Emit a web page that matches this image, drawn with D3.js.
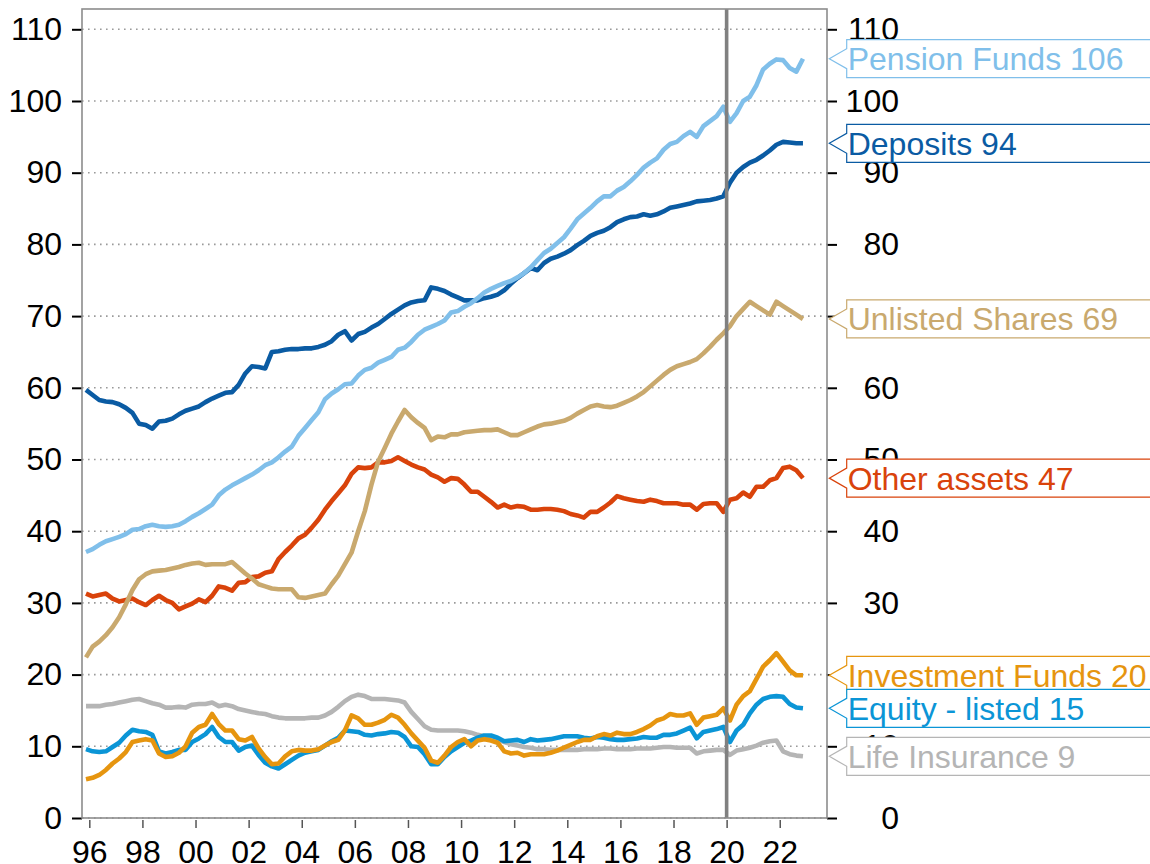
<!DOCTYPE html>
<html><head><meta charset="utf-8">
<script src="https://cdn.jsdelivr.net/npm/d3@7"></script>
<style>
body{margin:0;background:#fff;overflow:hidden;}
svg{display:block;}
text{font-family:"Liberation Sans",Arial,Helvetica,sans-serif;}
</style>
</head><body>
<svg id="chart" width="1150" height="864"></svg>
<script>
// ---------------- DATA (quarterly, first observation 1995 Q4, last 2022 Q4) ----------------
const firstYear = 1995, firstQuarter = 4, lastYear = 2022, lastQuarter = 4;

const pensionFunds = [37.1,
 37.5,38.1,38.6,38.9, 39.2,39.6,40.2,40.3, 40.7,40.9,40.7,40.6, 40.7,40.9,41.4,42.0,
 42.5,43.1,43.7,45.0, 45.8,46.4,46.9,47.4, 47.9,48.5,49.2,49.6, 50.3,51.1,51.8,53.3,
 54.4,55.5,56.6,58.4, 59.2,59.8,60.5,60.6, 61.7,62.5,62.8,63.5, 63.9,64.3,65.3,65.6,
 66.4,67.4,68.1,68.5, 68.9,69.4,70.5,70.7, 71.3,71.8,72.5,73.3, 73.8,74.2,74.6,74.9,
 75.4,76.0,76.8,77.8, 78.8,79.4,80.2,81.0, 82.2,83.5,84.3,85.1, 86.0,86.7,86.7,87.5,
 88.0,88.8,89.7,90.7, 91.4,92.0,93.2,94.0, 94.3,95.1,95.7,95.0, 96.5,97.2,97.9,99.2,
 97.1,98.3,100.0,100.6, 102.2,104.4,105.2,105.8, 105.7,104.6,104.1,105.9];

const deposits = [59.7,
 59.0,58.3,58.1,58.0, 57.7,57.2,56.5,55.0, 54.8,54.3,55.3,55.4, 55.7,56.3,56.8,57.1,
 57.4,58.0,58.5,58.9, 59.3,59.4,60.4,62.0, 63.0,62.9,62.7,65.0, 65.1,65.3,65.4,65.4,
 65.5,65.5,65.7,66.0, 66.5,67.4,67.9,66.6, 67.5,67.8,68.4,68.9, 69.6,70.3,70.9,71.5,
 71.9,72.1,72.2,74.0, 73.8,73.5,73.0,72.6, 72.2,72.2,72.2,72.5, 72.7,73.0,73.6,74.5,
 75.3,76.0,76.7,76.4, 77.4,78.0,78.3,78.7, 79.2,79.9,80.5,81.2, 81.6,81.9,82.4,83.1,
 83.5,83.8,83.9,84.2, 84.0,84.2,84.6,85.1, 85.3,85.5,85.7,86.0, 86.1,86.2,86.4,86.7,
 88.6,90.0,90.8,91.4, 91.8,92.4,93.1,93.9, 94.3,94.2,94.1,94.1];

const unlistedShares = [22.4,
 23.9,24.6,25.5,26.6, 28.0,29.8,31.8,33.3, 34.0,34.4,34.5,34.6, 34.8,35.0,35.3,35.5,
 35.6,35.3,35.4,35.4, 35.4,35.7,34.9,34.1, 33.4,32.6,32.3,32.0, 31.9,31.9,31.9,30.8,
 30.7,30.9,31.1,31.3, 32.6,33.8,35.4,37.0, 40.0,42.8,46.5,49.7, 51.6,53.6,55.3,56.9,
 55.9,55.1,54.4,52.7, 53.2,53.1,53.5,53.5, 53.8,53.9,54.0,54.1, 54.1,54.2,53.8,53.4,
 53.4,53.8,54.2,54.6, 54.9,55.0,55.2,55.4, 55.8,56.4,56.9,57.4, 57.6,57.4,57.3,57.5,
 57.9,58.3,58.8,59.4, 60.2,61.0,61.8,62.5, 63.0,63.3,63.6,64.0, 64.8,65.7,66.7,67.6,
 68.6,70.0,71.0,72.0, 71.4,70.8,70.2,72.0, 71.4,70.8,70.2,69.6];

const otherAssets = [31.3,
 30.9,31.1,31.3,30.6, 30.2,30.4,30.6,30.1, 29.7,30.4,31.0,30.4, 30.0,29.1,29.5,29.9,
 30.5,30.1,31.0,32.3, 32.1,31.7,32.8,32.9, 33.6,33.7,34.2,34.4, 36.1,37.1,38.0,39.0,
 39.5,40.5,41.6,43.0, 44.2,45.3,46.4,48.0, 48.9,48.8,48.9,49.6, 49.6,49.8,50.3,49.8,
 49.3,48.9,48.6,47.9, 47.5,46.9,47.4,47.3, 46.5,45.5,45.5,44.8, 44.1,43.3,43.7,43.3,
 43.5,43.4,43.0,43.0, 43.1,43.1,43.0,42.8, 42.4,42.2,41.9,42.7, 42.7,43.3,44.0,44.9,
 44.6,44.4,44.2,44.1, 44.4,44.2,43.9,43.9, 43.9,43.7,43.7,43.0, 43.8,43.9,43.9,42.7,
 44.4,44.6,45.4,44.8, 46.2,46.2,47.1,47.4, 48.8,49.0,48.5,47.4];

const investmentFunds = [5.4,
 5.6,6.0,6.7,7.6, 8.3,9.2,10.6,10.8, 11.0,10.8,9.0,8.5, 8.6,9.1,10.0,11.9,
 12.7,13.0,14.5,13.1, 12.2,12.2,11.0,10.8, 11.3,9.7,8.5,7.5, 7.6,8.6,9.3,9.5,
 9.4,9.4,9.6,10.1, 10.6,10.9,12.2,14.3, 13.9,13.0,13.0,13.3, 13.7,14.4,14.0,13.0,
 11.8,10.8,9.8,8.0, 7.7,8.7,9.9,10.6, 11.0,10.0,10.8,11.0, 10.8,10.5,9.3,9.0,
 9.1,8.7,8.9,8.9, 8.9,9.1,9.4,9.8, 10.2,10.6,10.9,10.9, 11.4,11.7,11.5,11.9,
 11.7,11.7,12.0,12.4, 12.9,13.6,13.9,14.5, 14.3,14.3,14.6,13.0, 14.0,14.2,14.4,15.3,
 13.6,15.8,17.0,17.7, 19.4,21.1,22.0,23.0, 21.8,20.6,19.9,19.9];

const equityListed = [9.6,
 9.3,9.2,9.3,9.9, 10.5,11.5,12.3,12.1, 12.0,11.6,9.3,9.0, 9.2,9.5,9.5,10.6,
 11.1,11.7,12.7,11.3, 10.6,10.6,9.4,9.9, 10.1,8.8,7.7,7.2, 6.9,7.5,8.1,8.7,
 9.1,9.3,9.5,10.1, 10.7,11.2,12.2,12.1, 12.0,11.6,11.5,11.7, 11.8,12.0,11.9,11.3,
 10.0,9.9,8.9,7.5, 7.5,8.5,9.3,9.9, 10.5,10.8,11.2,11.5, 11.5,11.2,10.7,10.8,
 10.9,10.6,11.0,10.8, 10.9,11.0,11.2,11.4, 11.4,11.4,11.2,11.1, 11.3,11.2,11.0,10.9,
 10.9,11.0,11.1,11.3, 11.2,11.2,11.6,11.6, 11.8,12.2,12.6,11.1, 12.0,12.2,12.4,12.7,
 10.6,12.2,13.0,14.6, 15.8,16.6,16.9,17.0, 16.9,15.9,15.4,15.3];

const lifeInsurance = [15.6,
 15.6,15.6,15.8,15.9, 16.1,16.3,16.5,16.6, 16.3,16.0,15.8,15.4, 15.4,15.5,15.4,15.8,
 15.9,15.9,16.1,15.6, 15.8,15.6,15.2,15.0, 14.8,14.6,14.5,14.2, 14.0,13.9,13.9,13.9,
 13.9,14.0,14.0,14.3, 14.8,15.5,16.3,16.9, 17.2,17.0,16.6,16.6, 16.6,16.5,16.4,16.1,
 14.8,13.8,12.8,12.3, 12.2,12.2,12.2,12.2, 12.1,11.9,11.6,11.4, 11.1,10.9,10.6,10.3,
 10.1,9.9,9.8,9.6, 9.6,9.5,9.5,9.5, 9.5,9.5,9.6,9.6, 9.6,9.7,9.7,9.6,
 9.6,9.6,9.7,9.7, 9.7,9.8,9.9,9.9, 9.8,9.8,9.8,9.0, 9.3,9.4,9.5,9.5,
 8.8,9.4,9.6,9.8, 10.1,10.5,10.7,10.8, 9.3,8.9,8.7,8.6];

const seriesNames  = ["Pension Funds","Deposits","Unlisted Shares","Other assets","Investment Funds","Equity - listed","Life Insurance"];
const seriesLabels = ["Pension Funds 106","Deposits 94","Unlisted Shares 69","Other assets 47","Investment Funds 20","Equity - listed 15","Life Insurance 9"];
const seriesColors = ["#80bfea","#0a5ba3","#c9a96e","#d9430b","#e6950f","#0b95d6","#b5b5b5"];
const seriesValues = [pensionFunds, deposits, unlistedShares, otherAssets, investmentFunds, equityListed, lifeInsurance];
const drawOrder = [6,5,4,3,2,1,0];

const yTicks = [0,10,20,30,40,50,60,70,80,90,100,110];
const xTickYears = [1996,1998,2000,2002,2004,2006,2008,2010,2012,2014,2016,2018,2020,2022];
const xTickLabels = ["96","98","00","02","04","06","08","10","12","14","16","18","20","22"];
const markerYear = 2020;

// quarter timeline (mid-quarter positions)
const quarters = [];
for (let y = firstYear, q = firstQuarter; y < lastYear || (y === lastYear && q <= lastQuarter); ) {
  quarters.push(y + (q - 0.5) / 4);
  q++; if (q > 4) { q = 1; y++; }
}

// ---------------- LAYOUT ----------------
const L = 82, R = 827, T = 9, B = 818;
const svg = d3.select("#chart");
const x = d3.scaleLinear().domain([1995.725, 2023.78]).range([L, R]);
const y = d3.scaleLinear().domain([0, 110]).range([B, 29.3]);
const FS = 32;
const FF = '"Liberation Sans",Arial,sans-serif';

// gridlines
svg.append("g").selectAll("line").data(yTicks).join("line")
  .attr("x1", L).attr("x2", R).attr("y1", d => y(d)).attr("y2", d => y(d))
  .attr("stroke", "#9a9a9a").attr("stroke-width", 1.6).attr("stroke-dasharray", "1.6,4.4");

// left axis
const leftAxis = d3.axisLeft(y).tickValues(yTicks).tickSize(10).tickPadding(10).tickFormat(d3.format("d"));
const gl = svg.append("g").attr("transform", `translate(${L},0)`).call(leftAxis);
gl.select(".domain").remove();
gl.selectAll(".tick line").attr("stroke", "#000").attr("stroke-width", 2);
gl.selectAll(".tick text").attr("font-size", FS).attr("fill", "#000").attr("font-family", FF);

// right axis (labels right-aligned)
const rightAxis = d3.axisRight(y).tickValues(yTicks).tickSize(10).tickPadding(0).tickFormat(d3.format("d"));
const gr = svg.append("g").attr("transform", `translate(${R},0)`).call(rightAxis);
gr.select(".domain").remove();
gr.selectAll(".tick line").attr("stroke", "#000").attr("stroke-width", 2);
gr.selectAll(".tick text").attr("font-size", FS).attr("fill", "#000")
  .attr("text-anchor", "end").attr("x", 72).attr("font-family", FF);

// bottom axis
const bottomAxis = d3.axisBottom(x).tickValues(xTickYears).tickSize(10).tickPadding(12)
  .tickFormat((d, i) => xTickLabels[i]);
const gb = svg.append("g").attr("transform", `translate(0,${B})`).call(bottomAxis);
gb.select(".domain").remove();
gb.selectAll(".tick line").attr("stroke", "#555").attr("stroke-width", 1.5).attr("y1", 2);
gb.selectAll(".tick text").attr("font-size", FS).attr("fill", "#000").attr("font-family", FF);

// lines
const line = d3.line().x((d, i) => x(quarters[i])).y(d => y(d));
svg.append("g").selectAll("path").data(drawOrder).join("path")
  .attr("d", k => line(seriesValues[k]))
  .attr("fill", "none").attr("stroke", k => seriesColors[k])
  .attr("stroke-width", 4.6).attr("stroke-linejoin", "round").attr("stroke-linecap", "butt");

// 2020 marker
svg.append("line").attr("x1", x(markerYear)).attr("x2", x(markerYear)).attr("y1", T).attr("y2", B)
  .attr("stroke", "#808080").attr("stroke-width", 3.6);

// frame
svg.append("rect").attr("x", L).attr("y", T).attr("width", R - L).attr("height", B - T)
  .attr("fill", "none").attr("stroke", "#8c8c8c").attr("stroke-width", 1.6);

// end-of-line callout labels
const boxL = 846.7, tipX = 829.3, half = 19, notch = 10;
const lg = svg.append("g");
seriesNames.forEach((name, k) => {
  const vals = seriesValues[k];
  const ty = y(vals[vals.length - 1]);
  const g = lg.append("g");
  g.append("path")
    .attr("d", `M1160,${ty - half} H${boxL} V${ty - notch} L${tipX},${ty} L${boxL},${ty + notch} V${ty + half} H1160`)
    .attr("fill", "#fff").attr("stroke", seriesColors[k]).attr("stroke-width", 1.2);
  g.append("text").attr("x", boxL + 1).attr("y", ty).attr("dy", "0.36em")
    .attr("font-size", FS).attr("fill", seriesColors[k]).attr("font-family", FF).text(seriesLabels[k]);
});
</script>
</body></html>
